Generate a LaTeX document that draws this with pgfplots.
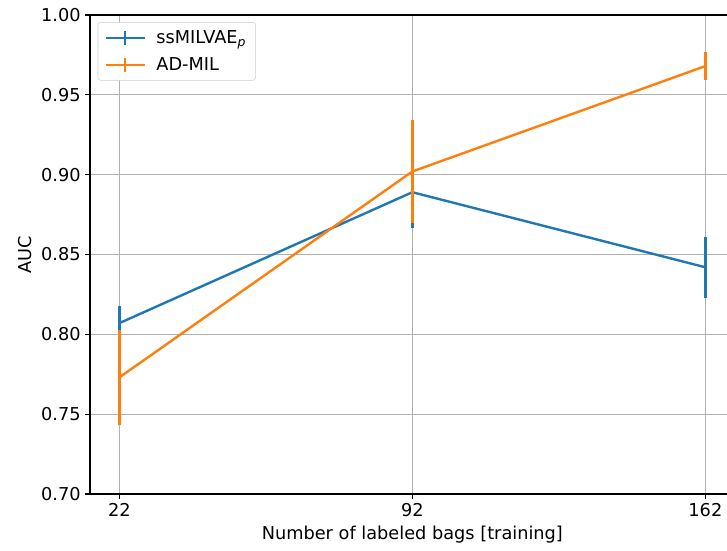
\documentclass[border=0pt]{standalone}
\usepackage{pgfplots}
\pgfplotsset{compat=1.18}
\usepackage{fontspec}
\setmainfont{DejaVu Sans}
\definecolor{tabblue}{HTML}{1F77B4}
\definecolor{taborange}{HTML}{FF7F0E}
\begin{document}
\begin{tikzpicture}[x=0.75pt,y=0.75pt]
\begin{axis}[
  at={(0,0)}, anchor=south west,
  scale only axis,
  width=483.5pt, height=359.25pt,
  xmin=15, xmax=169, ymin=0.70, ymax=1.00,
  xtick={22,92,162},
  ytick={0.70,0.75,0.80,0.85,0.90,0.95,1.00},
  yticklabel style={/pgf/number format/.cd,fixed,fixed zerofill,precision=2},
  /pgf/number format/assume math mode=true,
  tick label style={font=\fontsize{13.3}{16}\selectfont},
  label style={font=\fontsize{13.3}{16}\selectfont},
  xlabel={Number of labeled bags [training]},
  ylabel={AUC},
  grid=major,
  grid style={color=black!31, line width=0.85pt},
  axis line style={line width=0.85pt},
  tick style={black, line width=0.85pt},
  tick align=outside,
  major tick length=3.5pt,
  xtick pos=bottom, ytick pos=left,
  legend style={at={(0.012,0.985)}, anchor=north west, font=\fontsize{13.3}{16}\selectfont,
    draw=black!20, rounded corners=2pt, inner xsep=5pt, inner ysep=4pt, row sep=5pt,
    /tikz/every odd column/.append style={column sep=6pt}},
  legend cell align=left,
  legend image code/.code={
    \draw[#1] (0pt,0pt) -- (29pt,0pt);
    \draw[#1] (14.5pt,-5.5pt) -- (14.5pt,5.5pt);
  },
]
\addplot[tabblue, line width=1.8pt, mark=none,
  error bars/.cd, y dir=both, y explicit, error mark=none,
  error bar style={line width=1.8pt, tabblue}]
  coordinates {
    (22,0.807) +- (0,0.011)
    (92,0.889) +- (0,0.0225)
    (162,0.842) +- (0,0.019)
  };
\addlegendentry{ssMILVAE\textsubscript{\textit{p}}}
\addplot[taborange, line width=1.8pt, mark=none,
  error bars/.cd, y dir=both, y explicit, error mark=none,
  error bar style={line width=1.8pt, taborange}]
  coordinates {
    (22,0.773) +- (0,0.030)
    (92,0.902) +- (0,0.0325)
    (162,0.968) +- (0,0.009)
  };
\addlegendentry{AD-MIL}
\end{axis}
\pgfresetboundingbox
\useasboundingbox (-90,-56) rectangle (637,494);
\end{tikzpicture}
\end{document}
